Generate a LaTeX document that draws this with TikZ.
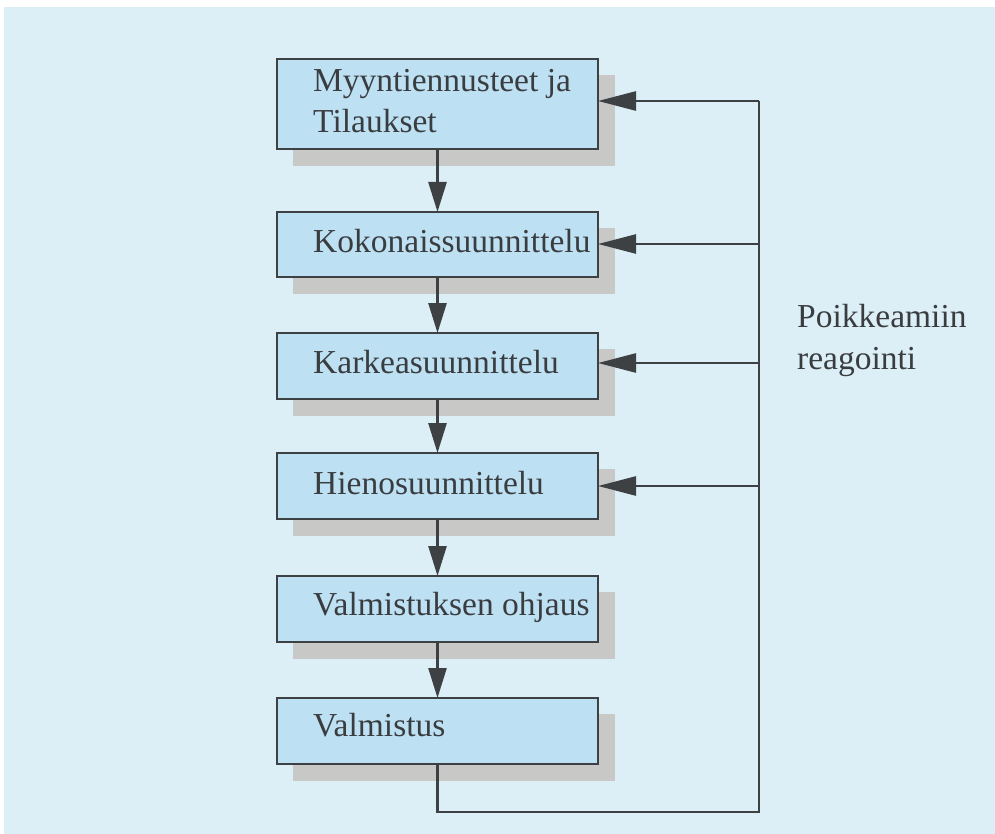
\documentclass[tikz,border=0pt]{standalone}
\usepackage{fontspec}
\setmainfont{Liberation Serif}
\usetikzlibrary{arrows.meta}
\definecolor{bgc}{HTML}{DCEEF6}
\definecolor{boxc}{HTML}{BDE0F3}
\definecolor{shc}{HTML}{C8C8C6}
\definecolor{inkc}{HTML}{3E4144}
\definecolor{txtc}{HTML}{3A3D40}
\begin{document}
\begin{tikzpicture}[x=1pt,y=-1pt,
  stepbox/.style={draw=inkc, line width=2.6pt, fill=boxc, inner sep=0pt, outer sep=0pt, anchor=north west, minimum width=321pt},
  lbl/.style={text=txtc, inner sep=0pt, anchor=base west, font=\fontsize{33.5}{42}\selectfont},
  dn/.style={draw=inkc, line width=2.6pt, -{Triangle[length=30pt,width=18pt]}},
  fb/.style={draw=inkc, line width=2.6pt},
  fbarrow/.style={draw=inkc, line width=2.6pt, -{Triangle[length=38pt,width=19pt]}}
]
\useasboundingbox (0,0) rectangle (995,834);
\fill[white] (0,0) rectangle (995,834);
\fill[bgc] (4,7) rectangle (995,834);
% shadows
\fill[shc] (293,75) rectangle (615,166);
\fill[shc] (293,228) rectangle (615,294);
\fill[shc] (293,349) rectangle (615,416);
\fill[shc] (293,469) rectangle (615,536);
\fill[shc] (293,592) rectangle (615,659);
\fill[shc] (293,714) rectangle (615,781);
% boxes
\node[stepbox, minimum height=90pt] (b1) at (277,59) {};
\node[stepbox, minimum height=65pt] (b2) at (277,212) {};
\node[stepbox, minimum height=66pt] (b3) at (277,333) {};
\node[stepbox, minimum height=66pt] (b4) at (277,453) {};
\node[stepbox, minimum height=66pt] (b5) at (277,576) {};
\node[stepbox, minimum height=66pt] (b6) at (277,698) {};
% texts
\node[lbl] (t1a) at (313,92) {Myyntiennusteet ja};
\node[lbl] (t1b) at (313,133) {Tilaukset};
\node[lbl] (t2) at (313,252) {Kokonaissuunnittelu};
\node[lbl] (t3) at (313,373) {Karkeasuunnittelu};
\node[lbl] (t4) at (313,494) {Hienosuunnittelu};
\node[lbl] (t5) at (313,615) {Valmistuksen ohjaus};
\node[lbl] (t6) at (313,736) {Valmistus};
\node[lbl] (p1) at (797,327) {Poikkeamiin};
\node[lbl] (p2) at (797,369) {reagointi};
% down arrows
\draw[dn] (b1.south) -- (b2.north);
\draw[dn] (b2.south) -- (b3.north);
\draw[dn] (b3.south) -- (b4.north);
\draw[dn] (b4.south) -- (b5.north);
\draw[dn] (b5.south) -- (b6.north);
% feedback
\coordinate (cb) at (759,812);
\coordinate (ct) at (759,101);
\coordinate (k2) at (759,244);
\coordinate (k3) at (759,363);
\coordinate (k4) at (759,486);
\draw[fb] (b6.south) |- (cb) -- (ct);
\draw[fbarrow] (ct) -- (ct -| b1.east);
\draw[fbarrow] (k2) -- (k2 -| b2.east);
\draw[fbarrow] (k3) -- (k3 -| b3.east);
\draw[fbarrow] (k4) -- (k4 -| b4.east);
\end{tikzpicture}
\end{document}
